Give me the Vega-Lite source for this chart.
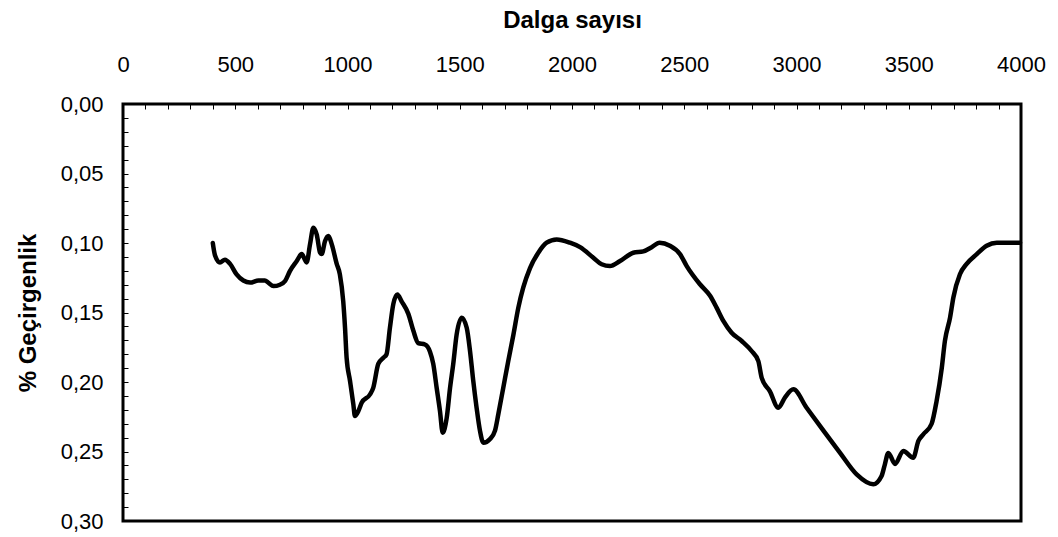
{
  "$schema": "https://vega.github.io/schema/vega-lite/v6.json",
  "width": 898,
  "height": 417,
  "autosize": "none",
  "padding": {"left": 123, "top": 104, "right": 37, "bottom": 16},
  "background": "white",
  "config": {
    "view": {"stroke": "black", "strokeWidth": 3},
    "font": "Liberation Sans"
  },
  "data": {
    "values": [
      {"x": 400, "y": 0.100}, {"x": 410, "y": 0.109}, {"x": 432, "y": 0.114}, {"x": 454, "y": 0.112},
      {"x": 477, "y": 0.115}, {"x": 506, "y": 0.1226}, {"x": 536, "y": 0.127}, {"x": 566, "y": 0.1285},
      {"x": 603, "y": 0.127}, {"x": 632, "y": 0.127}, {"x": 647, "y": 0.1285}, {"x": 670, "y": 0.131},
      {"x": 699, "y": 0.130}, {"x": 722, "y": 0.1273}, {"x": 744, "y": 0.120}, {"x": 774, "y": 0.113},
      {"x": 796, "y": 0.108}, {"x": 818, "y": 0.114}, {"x": 833, "y": 0.101}, {"x": 848, "y": 0.089},
      {"x": 863, "y": 0.094}, {"x": 878, "y": 0.107}, {"x": 885, "y": 0.108}, {"x": 900, "y": 0.0986},
      {"x": 915, "y": 0.095}, {"x": 930, "y": 0.101}, {"x": 952, "y": 0.115}, {"x": 966, "y": 0.1225},
      {"x": 981, "y": 0.142}, {"x": 989, "y": 0.161}, {"x": 996, "y": 0.1825}, {"x": 1011, "y": 0.199},
      {"x": 1026, "y": 0.216}, {"x": 1033, "y": 0.2245}, {"x": 1048, "y": 0.221}, {"x": 1063, "y": 0.215},
      {"x": 1100, "y": 0.209}, {"x": 1115, "y": 0.204}, {"x": 1137, "y": 0.187}, {"x": 1160, "y": 0.1825},
      {"x": 1174, "y": 0.180}, {"x": 1189, "y": 0.161}, {"x": 1204, "y": 0.144}, {"x": 1222, "y": 0.137},
      {"x": 1241, "y": 0.142}, {"x": 1271, "y": 0.151}, {"x": 1293, "y": 0.163}, {"x": 1315, "y": 0.172},
      {"x": 1345, "y": 0.173}, {"x": 1367, "y": 0.178}, {"x": 1382, "y": 0.187}, {"x": 1397, "y": 0.204},
      {"x": 1412, "y": 0.221}, {"x": 1424, "y": 0.2365}, {"x": 1442, "y": 0.2257}, {"x": 1457, "y": 0.204},
      {"x": 1471, "y": 0.187}, {"x": 1486, "y": 0.166}, {"x": 1509, "y": 0.1537}, {"x": 1531, "y": 0.161},
      {"x": 1546, "y": 0.178}, {"x": 1560, "y": 0.199}, {"x": 1575, "y": 0.2185}, {"x": 1590, "y": 0.235},
      {"x": 1605, "y": 0.2437}, {"x": 1635, "y": 0.241}, {"x": 1657, "y": 0.235}, {"x": 1672, "y": 0.223},
      {"x": 1694, "y": 0.204}, {"x": 1716, "y": 0.185}, {"x": 1739, "y": 0.166}, {"x": 1761, "y": 0.1465},
      {"x": 1783, "y": 0.132}, {"x": 1813, "y": 0.118}, {"x": 1850, "y": 0.107}, {"x": 1887, "y": 0.0998},
      {"x": 1932, "y": 0.0974}, {"x": 1991, "y": 0.0998}, {"x": 2036, "y": 0.103}, {"x": 2095, "y": 0.1106},
      {"x": 2132, "y": 0.1153}, {"x": 2169, "y": 0.1166}, {"x": 2214, "y": 0.113}, {"x": 2273, "y": 0.107},
      {"x": 2318, "y": 0.106}, {"x": 2355, "y": 0.103}, {"x": 2390, "y": 0.0998}, {"x": 2436, "y": 0.102},
      {"x": 2481, "y": 0.108}, {"x": 2511, "y": 0.1166}, {"x": 2570, "y": 0.1297}, {"x": 2615, "y": 0.138},
      {"x": 2644, "y": 0.1465}, {"x": 2674, "y": 0.156}, {"x": 2711, "y": 0.1645}, {"x": 2756, "y": 0.1705},
      {"x": 2800, "y": 0.1777}, {"x": 2830, "y": 0.185}, {"x": 2845, "y": 0.197}, {"x": 2881, "y": 0.2065},
      {"x": 2919, "y": 0.2185}, {"x": 2949, "y": 0.211}, {"x": 2986, "y": 0.2053}, {"x": 3045, "y": 0.2185},
      {"x": 3120, "y": 0.235}, {"x": 3194, "y": 0.251}, {"x": 3268, "y": 0.2665}, {"x": 3342, "y": 0.2736},
      {"x": 3379, "y": 0.2676}, {"x": 3394, "y": 0.259}, {"x": 3409, "y": 0.251}, {"x": 3439, "y": 0.259},
      {"x": 3476, "y": 0.2496}, {"x": 3520, "y": 0.2545}, {"x": 3543, "y": 0.2424}, {"x": 3565, "y": 0.2376},
      {"x": 3602, "y": 0.230}, {"x": 3624, "y": 0.2137}, {"x": 3647, "y": 0.190}, {"x": 3661, "y": 0.1705},
      {"x": 3684, "y": 0.1537}, {"x": 3699, "y": 0.139}, {"x": 3728, "y": 0.1225}, {"x": 3758, "y": 0.115},
      {"x": 3803, "y": 0.108}, {"x": 3847, "y": 0.102}, {"x": 3892, "y": 0.0998}, {"x": 3996, "y": 0.0998}
    ]
  },
  "mark": {"type": "line", "color": "black", "strokeWidth": 4.5, "strokeJoin": "round", "strokeCap": "round", "interpolate": "monotone"},
  "encoding": {
    "x": {
      "field": "x", "type": "quantitative",
      "scale": {"domain": [0, 4000], "nice": false, "zero": false},
      "axis": {
        "orient": "top",
        "title": "Dalga sayısı",
        "titleFont": "Liberation Sans", "titleFontSize": 24, "titleFontWeight": "bold", "titleColor": "black",
        "titlePadding": 21,
        "values": [0,100,200,300,400,500,600,700,800,900,1000,1100,1200,1300,1400,1500,1600,1700,1800,1900,2000,2100,2200,2300,2400,2500,2600,2700,2800,2900,3000,3100,3200,3300,3400,3500,3600,3700,3800,3900,4000],
        "labelExpr": "datum.value % 500 === 0 ? format(datum.value, 'd') : ''",
        "labelFont": "Liberation Sans", "labelFontSize": 22, "labelColor": "black",
        "labelPadding": 33,
        "labelOverlap": false,
        "labelFlush": false,
        "tickSize": -5, "tickColor": "black", "tickWidth": 1,
        "domain": false, "grid": false
      }
    },
    "y": {
      "field": "y", "type": "quantitative",
      "scale": {"domain": [0, 0.3], "reverse": true, "nice": false, "zero": false},
      "axis": {
        "title": "% Geçirgenlik",
        "titleFont": "Liberation Sans", "titleFontSize": 24, "titleFontWeight": "bold", "titleColor": "black",
        "titlePadding": 20,
        "values": [0,0.01,0.02,0.03,0.04,0.05,0.06,0.07,0.08,0.09,0.1,0.11,0.12,0.13,0.14,0.15,0.16,0.17,0.18,0.19,0.2,0.21,0.22,0.23,0.24,0.25,0.26,0.27,0.28,0.29,0.3],
        "labelExpr": "round(datum.value * 100) % 5 === 0 ? replace(format(datum.value, '.2f'), '.', ',') : ''",
        "labelFont": "Liberation Sans", "labelFontSize": 22, "labelColor": "black",
        "labelPadding": 25,
        "labelOverlap": false,
        "labelFlush": false,
        "tickSize": -5, "tickColor": "black", "tickWidth": 1,
        "domain": false, "grid": false
      }
    }
  }
}
